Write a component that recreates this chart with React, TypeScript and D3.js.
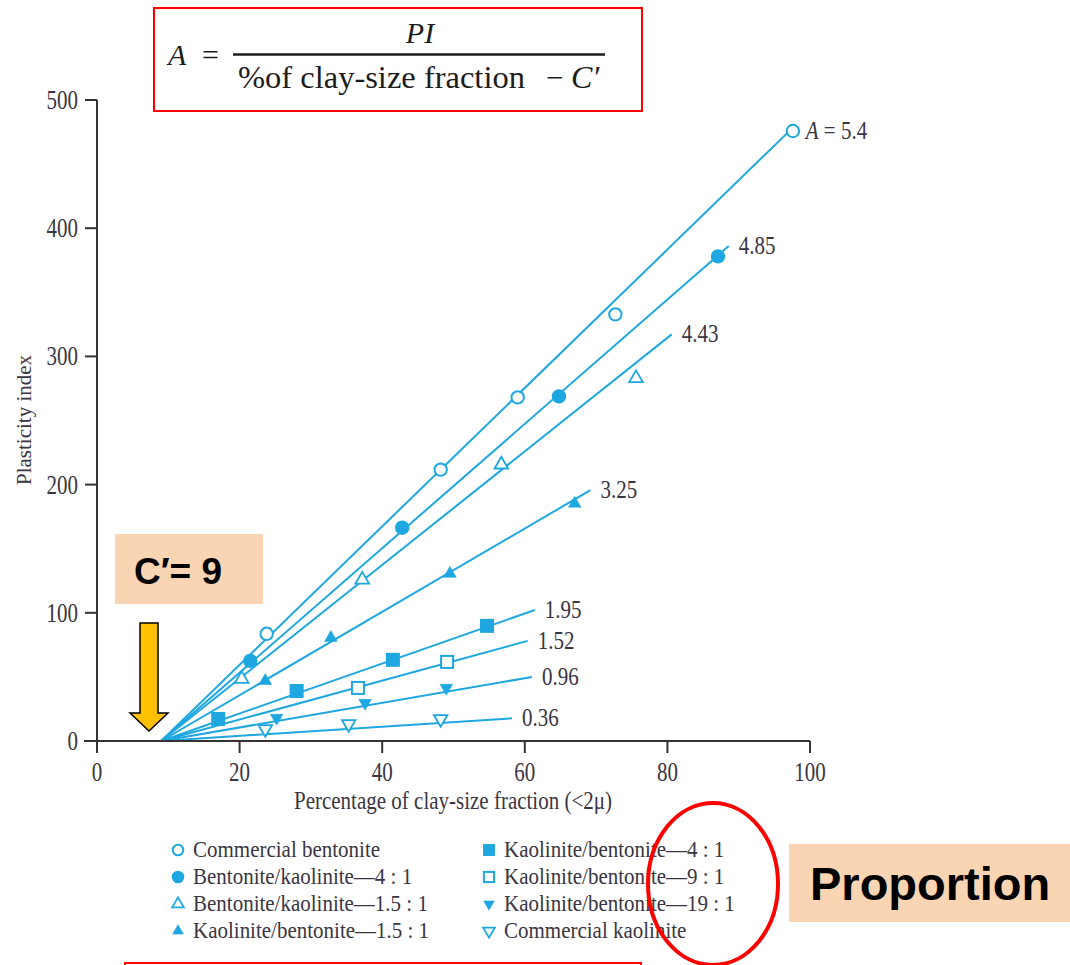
import React from "react";
import * as d3 from "d3";

const W = 1070;
const H = 965;

// Axis ticks
const xTicks = [0, 20, 40, 60, 80, 100];
const yTicks = [0, 100, 200, 300, 400, 500];

// Series (clay mixtures) and their activity lines PI = A · (% clay − C′)
const seriesNames = [
  "Commercial bentonite",
  "Bentonite/kaolinite\u20144 : 1",
  "Bentonite/kaolinite\u20141.5 : 1",
  "Kaolinite/bentonite\u20141.5 : 1",
  "Kaolinite/bentonite\u20144 : 1",
  "Kaolinite/bentonite\u20149 : 1",
  "Kaolinite/bentonite\u201419 : 1",
  "Commercial kaolinite",
];
const markerKinds = [
  "openCircle",
  "filledCircle",
  "openTriUp",
  "filledTriUp",
  "filledSquare",
  "openSquare",
  "filledTriDown",
  "openTriDown",
];
const activity = [5.4, 4.85, 4.43, 3.25, 1.95, 1.52, 0.96, 0.36];
const activityLabels = ["5.4", "4.85", "4.43", "3.25", "1.95", "1.52", "0.96", "0.36"];
const lineEndX = [98.0, 88.6, 80.6, 69.2, 61.4, 60.4, 61.0, 58.2];
const cPrime = 9;

// Measured points: % clay-size fraction and plasticity index
const pointsX = [
  [23.8, 48.2, 59.0, 72.7, 97.6],
  [21.5, 42.8, 64.8, 87.1],
  [20.3, 37.2, 56.7, 75.6],
  [23.6, 32.8, 49.5, 67.0],
  [17.0, 28.0, 41.5, 54.7],
  [36.6, 49.1],
  [25.2, 37.6, 49.0],
  [23.6, 35.3, 48.2],
];
const pointsY = [
  [83.6, 211.7, 268, 332.8, 475.8],
  [62.5, 166.4, 268.8, 378],
  [48.4, 125.8, 215.6, 283],
  [46.9, 80.5, 130.5, 185.2],
  [17.2, 39, 63.3, 89.8],
  [41.4, 61.7],
  [18, 29.7, 41.4],
  [9.4, 13.3, 17.2],
];

const BLUE = "#1ea7e1";
const INK = "#3a3542";
const SERIF = "'Liberation Serif', 'DejaVu Serif', serif";
const SANS = "'Liberation Sans', Arial, sans-serif";
const PEACH = "#fad5b4";

const x = d3.scaleLinear().domain([0, 100]).range([97, 810]);
const y = d3.scaleLinear().domain([0, 500]).range([741, 100]);

function Marker({ kind, cx, cy, s = 1 }: { kind: string; cx: number; cy: number; s?: number }) {
  const filled = kind.startsWith("filled");
  const fill = filled ? BLUE : "#fff";
  const stroke = BLUE;
  const sw = 2;
  if (kind.endsWith("Circle")) {
    return <circle cx={cx} cy={cy} r={6.2 * s} fill={fill} stroke={stroke} strokeWidth={sw} />;
  }
  if (kind.endsWith("Square")) {
    const side = (filled ? 14 : 12) * s;
    return (
      <rect x={cx - side / 2} y={cy - side / 2} width={side} height={side} fill={fill} stroke={stroke} strokeWidth={filled ? 0 : sw} />
    );
  }
  const path = d3.symbol().type(d3.symbolTriangle).size((filled ? 70 : 80) * s * s)();
  const rot = kind.endsWith("Down") ? 180 : 0;
  return (
    <path d={path || ""} transform={`translate(${cx},${cy}) rotate(${rot})`} fill={fill} stroke={stroke} strokeWidth={filled ? 0.5 : 1.8} />
  );
}

function SText({
  x0,
  y0,
  size,
  sy = 1.3,
  anchor = "start",
  children,
}: {
  x0: number;
  y0: number;
  size: number;
  sy?: number;
  anchor?: string;
  children: React.ReactNode;
}) {
  return (
    <text
      transform={`translate(${x0},${y0}) scale(1,${sy})`}
      fontFamily={SERIF}
      fontSize={size}
      fill={INK}
      textAnchor={anchor as any}
    >
      {children}
    </text>
  );
}

export default function App() {
  const lines = activity.map((a, i) => {
    const x1 = lineEndX[i];
    return { x0: cPrime, y0: 0, x1, y1: a * (x1 - cPrime) };
  });

  const legendRows = [850, 877, 904, 931];

  return (
    <svg
      width={W}
      height={H}
      viewBox={`0 0 ${W} ${H}`}
      style={{ position: "absolute", left: 0, top: 0, background: "#fff" }}
    >
      {/* Formula box */}
      <rect x={154} y={8} width={488} height={103} fill="#fff" stroke="#ff0000" strokeWidth={2} />
      <text x={168} y={65} fontFamily={SERIF} fontSize={30} fontStyle="italic" fill="#1c1c1c">
        A
      </text>
      <text x={202} y={65} fontFamily={SERIF} fontSize={30} fill="#1c1c1c">
        =
      </text>
      <line x1={233} x2={605} y1={54.5} y2={54.5} stroke="#1c1c1c" strokeWidth={2.6} />
      <text x={420} y={43} fontFamily={SERIF} fontSize={30} fontStyle="italic" fill="#1c1c1c" textAnchor="middle">
        PI
      </text>
      <text x={238} y={88} fontFamily={SERIF} fontSize={32.5} fill="#1c1c1c">
        %of clay-size fraction
      </text>
      <text x={546} y={88} fontFamily={SERIF} fontSize={31} fill="#1c1c1c">
        {"\u2212"}
      </text>
      <text x={571} y={88} fontFamily={SERIF} fontSize={32} fontStyle="italic" fill="#1c1c1c">
        {"C\u2032"}
      </text>

      {/* Activity lines */}
      {lines.map((l, i) => (
        <line key={`l${i}`} x1={x(l.x0)} y1={y(l.y0)} x2={x(l.x1)} y2={y(l.y1)} stroke={BLUE} strokeWidth={2} />
      ))}

      {/* Axes */}
      <g stroke="#333" strokeWidth={2} fill="none">
        <line x1={84} x2={x(100)} y1={y(0)} y2={y(0)} />
        <line x1={x(0)} x2={x(0)} y1={y(500)} y2={753} />
        {xTicks.map((t) => (
          <line key={`xt${t}`} x1={x(t)} x2={x(t)} y1={y(0)} y2={753} />
        ))}
        {yTicks.map((t) => (
          <line key={`yt${t}`} x1={85} x2={x(0)} y1={y(t)} y2={y(t)} />
        ))}
      </g>
      {xTicks.map((t) => (
        <SText key={`xl${t}`} x0={x(t)} y0={781} size={21} sy={1.25} anchor="middle">
          {t}
        </SText>
      ))}
      {yTicks.map((t) => (
        <SText key={`yl${t}`} x0={78} y0={y(t) + 9} size={21} sy={1.25} anchor="end">
          {t}
        </SText>
      ))}
      <SText x0={453} y0={809} size={21} sy={1.2} anchor="middle">
        {"Percentage of clay-size fraction (<2\u03bc)"}
      </SText>
      <text
        transform="translate(31,420) rotate(-90)"
        fontFamily={SERIF}
        fontSize={21}
        fill={INK}
        textAnchor="middle"
      >
        Plasticity index
      </text>

      {/* Data points */}
      {pointsX.map((xs, i) =>
        xs.map((px, j) => <Marker key={`m${i}-${j}`} kind={markerKinds[i]} cx={x(px)} cy={y(pointsY[i][j])} />)
      )}

      {/* Line labels */}
      {lines.map((l, i) => (
        <SText key={`al${i}`} x0={x(l.x1) + 10} y0={y(l.y1) + (i === 0 ? 14 : 8)} size={21} sy={1.2}>
          {i === 0 ? (
            <>
              <tspan fontStyle="italic">A</tspan>
              {" = " + activityLabels[i]}
            </>
          ) : (
            activityLabels[i]
          )}
        </SText>
      ))}

      {/* Legend */}
      {seriesNames.map((name, i) => {
        const col = Math.floor(i / 4);
        const row = i % 4;
        const mx = col === 0 ? 178 : 489;
        const cy = legendRows[row];
        return (
          <g key={`lg${i}`}>
            <Marker kind={markerKinds[i]} cx={mx} cy={cy} s={0.85} />
            <SText x0={mx + 15} y0={cy + 7} size={21} sy={1.08}>
              {name}
            </SText>
          </g>
        );
      })}

      {/* C′ annotation */}
      <rect x={115} y={534} width={148} height={70} fill={PEACH} />
      <text x={134} y={584} fontFamily={SANS} fontWeight="bold" fontSize={37} fill="#000">
        {"C\u2032= 9"}
      </text>
      <path
        d="M140,623 L158,623 L158,713 L168,713 L149,731 L130,713 L140,713 Z"
        fill="#ffc000"
        stroke="#000"
        strokeWidth={1.5}
        strokeLinejoin="miter"
      />

      {/* Proportion annotation */}
      <ellipse cx={713} cy={884} rx={65} ry={81} fill="none" stroke="#ff0000" strokeWidth={4} />
      <rect x={789} y={844} width={281} height={78} fill={PEACH} />
      <text x={810} y={900} fontFamily={SANS} fontWeight="bold" fontSize={47} fill="#000">
        Proportion
      </text>

      {/* Lower red frame edge */}
      <rect x={125} y={963} width={516} height={20} fill="none" stroke="#ff0000" strokeWidth={2} />
    </svg>
  );
}
